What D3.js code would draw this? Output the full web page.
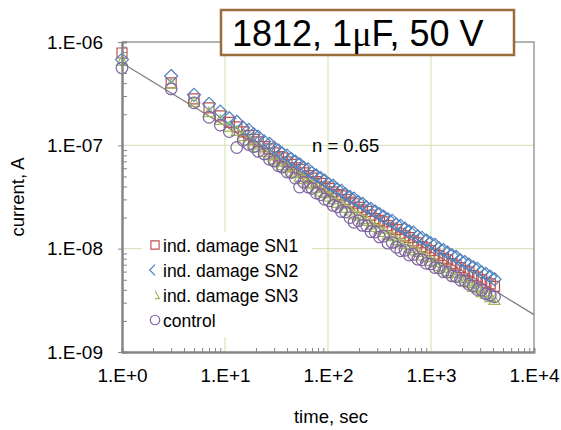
<!DOCTYPE html>
<html>
<head>
<meta charset="utf-8">
<script src="https://cdn.jsdelivr.net/npm/d3@7"></script>
<style>
  body { margin: 0; background: #fff; }
  text { font-family: "Liberation Sans", Arial, sans-serif; fill: #000; }
</style>
</head>
<body>
<svg id="chart" width="561" height="430"></svg>
<script>
// measurement times, sec
const times = [1, 3, 5, 7, 9, 11, 13, 15, 17, 19, 21, 24, 27, 30, 33, 36, 40, 44, 48, 53,
  58, 64, 70, 77, 85, 93, 102, 112, 123, 135, 148, 163, 179, 197, 216, 238, 261, 287, 316, 347,
  382, 420, 462, 508, 559, 615, 676, 744, 818, 900, 990, 1089, 1198, 1318, 1450, 1595, 1754, 1930, 2123, 2335,
  2568, 2825, 3108, 3418, 3760, 4136];

// currents, A
const sn1 = [7.83e-7, 4.02e-7, 2.81e-7, 2.30e-7, 1.93e-7, 1.67e-7, 1.51e-7, 1.35e-7, 1.25e-7, 1.14e-7,
  1.08e-7, 9.70e-8, 9.23e-8, 8.45e-8, 7.80e-8, 7.57e-8, 6.93e-8, 6.55e-8, 6.07e-8, 5.85e-8,
  5.41e-8, 5.09e-8, 4.82e-8, 4.45e-8, 4.29e-8, 3.96e-8, 3.84e-8, 3.54e-8, 3.34e-8, 3.24e-8,
  2.99e-8, 2.82e-8, 2.72e-8, 2.51e-8, 2.37e-8, 2.29e-8, 2.11e-8, 1.95e-8, 1.88e-8, 1.82e-8,
  1.67e-8, 1.58e-8, 1.53e-8, 1.41e-8, 1.33e-8, 1.28e-8, 1.19e-8, 1.14e-8, 1.05e-8, 1.02e-8,
  9.59e-9, 8.85e-9, 8.55e-9, 8.07e-9, 7.80e-9, 7.18e-9, 6.93e-9, 6.55e-9, 6.18e-9, 5.97e-9,
  5.50e-9, 5.31e-9, 5.01e-9, 4.73e-9, 4.57e-9, 4.31e-9];
const sn2 = [6.76e-7, 4.69e-7, 3.08e-7, 2.52e-7, 2.12e-7, 1.83e-7, 1.69e-7, 1.48e-7, 1.41e-7, 1.28e-7,
  1.21e-7, 1.09e-7, 1.035e-7, 9.49e-8, 8.95e-8, 8.30e-8, 7.96e-8, 7.35e-8, 6.97e-8, 6.56e-8,
  6.07e-8, 5.85e-8, 5.41e-8, 5.11e-8, 4.81e-8, 4.55e-8, 4.21e-8, 4.06e-8, 3.75e-8, 3.63e-8,
  3.35e-8, 3.16e-8, 3.05e-8, 2.82e-8, 2.72e-8, 2.51e-8, 2.43e-8, 2.29e-8, 2.16e-8, 2.04e-8,
  1.92e-8, 1.86e-8, 1.71e-8, 1.66e-8, 1.56e-8, 1.47e-8, 1.43e-8, 1.31e-8, 1.27e-8, 1.20e-8,
  1.13e-8, 1.09e-8, 1.005e-8, 9.70e-9, 9.16e-9, 8.63e-9, 8.34e-9, 7.69e-9, 7.43e-9, 7.01e-9,
  6.61e-9, 6.38e-9, 5.89e-9, 5.69e-9, 5.37e-9, 5.06e-9];
const sn3 = [6.61e-7, 3.95e-7, 2.63e-7, 2.10e-7, 1.76e-7, 1.52e-7, 1.38e-7, 1.23e-7, 1.12e-7, 1.02e-7,
  9.59e-8, 8.65e-8, 8.04e-8, 7.36e-8, 6.95e-8, 6.44e-8, 6.18e-8, 5.57e-8, 5.41e-8, 4.98e-8,
  4.71e-8, 4.34e-8, 4.20e-8, 3.87e-8, 3.56e-8, 3.45e-8, 3.19e-8, 3.01e-8, 2.78e-8, 2.69e-8,
  2.48e-8, 2.34e-8, 2.16e-8, 2.09e-8, 1.93e-8, 1.86e-8, 1.72e-8, 1.62e-8, 1.56e-8, 1.45e-8,
  1.36e-8, 1.32e-8, 1.21e-8, 1.15e-8, 1.11e-8, 1.02e-8, 9.64e-9, 9.29e-9, 8.57e-9, 8.28e-9,
  7.62e-9, 7.36e-9, 6.79e-9, 6.56e-9, 6.05e-9, 5.83e-9, 5.38e-9, 5.20e-9, 4.80e-9, 4.63e-9,
  4.27e-9, 4.12e-9, 3.80e-9, 3.67e-9, 3.39e-9, 3.19e-9];
const control = [5.62e-7, 3.52e-7, 2.58e-7, 1.87e-7, 1.57e-7, 1.36e-7, 9.53e-8, 1.12e-7, 1.02e-7, 9.72e-8,
  8.75e-8, 8.26e-8, 7.33e-8, 7.03e-8, 6.34e-8, 6.15e-8, 5.51e-8, 5.45e-8, 4.82e-8, 3.95e-8,
  4.40e-8, 3.95e-8, 3.83e-8, 3.45e-8, 3.33e-8, 3.01e-8, 2.91e-8, 2.62e-8, 2.54e-8, 2.29e-8,
  2.26e-8, 2.00e-8, 1.80e-8, 1.86e-8, 1.68e-8, 1.66e-8, 1.46e-8, 1.45e-8, 1.30e-8, 1.32e-8,
  1.13e-8, 1.15e-8, 1.03e-8, 9.53e-9, 9.64e-9, 8.67e-9, 8.79e-9, 7.91e-9, 7.82e-9, 7.21e-9,
  7.11e-9, 6.56e-9, 6.49e-9, 5.98e-9, 5.92e-9, 5.45e-9, 5.38e-9, 4.97e-9, 4.91e-9, 4.53e-9,
  4.37e-9, 4.03e-9, 3.98e-9, 3.67e-9, 3.55e-9, 3.42e-9];

// power-law fit line (n = 0.65)
const fitTimes = [1, 10000];
const fitCurrent = [6.27e-7, 2.30e-9];

const seriesNames = ["ind. damage SN1", "ind. damage SN2", "ind. damage SN3", "control"];
const xTicks = [1, 10, 100, 1000, 10000];
const xTickLabels = ["1.E+0", "1.E+1", "1.E+2", "1.E+3", "1.E+4"];
const yTicks = [1e-9, 1e-8, 1e-7, 1e-6];
const yTickLabels = ["1.E-09", "1.E-08", "1.E-07", "1.E-06"];

const svg = d3.select("#chart");
const plotLeft = 122, plotRight = 534, plotTop = 42, plotBottom = 352;

const x = d3.scaleLog().domain([1, 1e4]).range([plotLeft, plotRight]);
const y = d3.scaleLog().domain([1e-9, 1e-6]).range([plotBottom, plotTop]);

// minor tick values 2..9 in each decade
function minors(lo, hi) {
  let out = [];
  for (let d = lo; d < hi * 0.999; d *= 10) {
    for (let k = 2; k <= 9; k++) out.push(d * k);
  }
  return out;
}

// gridlines (major only)
const grid = svg.append("g").attr("stroke", "#d7e4bd").attr("stroke-width", 1.2);
grid.selectAll(".vg").data(xTicks.slice(1, -1)).join("line")
  .attr("x1", d => x(d)).attr("x2", d => x(d)).attr("y1", plotTop).attr("y2", plotBottom);
grid.selectAll(".hg").data(yTicks.slice(1, -1)).join("line")
  .attr("y1", d => y(d)).attr("y2", d => y(d)).attr("x1", plotLeft).attr("x2", plotRight);

// plot border top/right
svg.append("path")
  .attr("d", `M${plotLeft},${plotTop}H${plotRight}V${plotBottom}`)
  .attr("fill", "none").attr("stroke", "#9a9a9a").attr("stroke-width", 1.5);

// fit line
svg.append("path")
  .datum(fitTimes.map((t, i) => [t, fitCurrent[i]]))
  .attr("d", d3.line().x(d => x(d[0])).y(d => y(d[1])))
  .attr("fill", "none").attr("stroke", "#808080").attr("stroke-width", 1.3);

// marker shapes
const shapes = {
  square: "M-5,-5H5V5H-5Z",
  diamond: "M0,-6.5L6.5,0L0,6.5L-6.5,0Z",
  triangle: "M0,-5L5.5,4.5H-5.5Z",
  circle: d3.arc()({innerRadius: 0, outerRadius: 5.8, startAngle: 0, endAngle: 2 * Math.PI})
};
const series = [
  {name: seriesNames[0], values: sn1, shape: "square", color: "#c0504d"},
  {name: seriesNames[1], values: sn2, shape: "diamond", color: "#4f81bd"},
  {name: seriesNames[2], values: sn3, shape: "triangle", color: "#9bbb59"},
  {name: seriesNames[3], values: control, shape: "circle", color: "#8064a2"}
];

series.forEach(s => {
  svg.append("g").selectAll("path")
    .data(times.map((t, i) => [t, s.values[i]]))
    .join("path")
    .attr("transform", d => `translate(${x(d[0])},${y(d[1])})`)
    .attr("d", shapes[s.shape])
    .attr("fill", "none")
    .attr("stroke", s.color)
    .attr("stroke-width", 1.2);
});

// axes
const axisColor = "#868686";
const xAxis = svg.append("g").attr("transform", `translate(0,${plotBottom})`)
  .call(d3.axisBottom(x).tickValues(xTicks).tickSize(0).tickPadding(17)
    .tickFormat((d, i) => xTickLabels[i]));
const yAxis = svg.append("g").attr("transform", `translate(${plotLeft},0)`)
  .call(d3.axisLeft(y).tickValues(yTicks).tickSizeInner(4).tickSizeOuter(0).tickPadding(15)
    .tickFormat((d, i) => yTickLabels[i]));
const xMinor = svg.append("g").attr("transform", `translate(0,${plotBottom})`)
  .call(d3.axisBottom(x).tickValues(minors(1, 1e4)).tickSize(-4).tickFormat(""));
const yMinor = svg.append("g").attr("transform", `translate(${plotLeft},0)`)
  .call(d3.axisLeft(y).tickValues(minors(1e-9, 1e-6)).tickSize(-5).tickFormat(""));

[xAxis, yAxis, xMinor, yMinor].forEach(a => {
  a.select(".domain").attr("stroke", axisColor).attr("stroke-width", 2);
  a.selectAll(".tick line").attr("stroke", axisColor).attr("stroke-width", 1);
  a.selectAll("text").attr("font-size", 19).attr("font-family", "Liberation Sans, Arial, sans-serif").attr("fill", "#000");
});

// axis titles
svg.append("text")
  .attr("transform", `translate(24,${(plotTop + plotBottom) / 2}) rotate(-90)`)
  .attr("text-anchor", "middle").attr("font-size", 18.5)
  .text("current, A");
svg.append("text")
  .attr("x", 331).attr("y", 423)
  .attr("text-anchor", "middle").attr("font-size", 18.5)
  .text("time, sec");

// slope annotation
svg.append("text")
  .attr("x", 312).attr("y", 152).attr("font-size", 18.5)
  .text("n = 0.65");

// legend
const lg = svg.append("g");
lg.append("rect").attr("x", 142).attr("y", 232).attr("width", 170).attr("height", 105).attr("fill", "#fff");
const defs = svg.append("defs");
defs.append("clipPath").attr("id", "clipLeftHalf")
  .append("rect").attr("x", -8).attr("y", -8).attr("width", 8).attr("height", 16);
defs.append("clipPath").attr("id", "clipRightHalf")
  .append("rect").attr("x", 0).attr("y", -8).attr("width", 8).attr("height", 16);
const legendY = [245, 270, 295, 320];
series.forEach((s, i) => {
  const g = lg.append("g").attr("transform", `translate(155,${legendY[i]}) scale(0.82)`);
  const p = g.append("path").attr("d", shapes[s.shape])
    .attr("fill", "none").attr("stroke", s.color).attr("stroke-width", 1.4);
  if (s.shape === "diamond") p.attr("clip-path", "url(#clipLeftHalf)");
  if (s.shape === "triangle") p.attr("clip-path", "url(#clipRightHalf)");
  lg.append("text").attr("x", 163).attr("y", legendY[i] + 6.5)
    .attr("font-size", 17.5).text(s.name);
});

// title box
svg.append("rect").attr("x", 221).attr("y", 10).attr("width", 293).attr("height", 45)
  .attr("fill", "#fff").attr("stroke", "#9b6b3c").attr("stroke-width", 2.5);
const title = svg.append("text").attr("x", 232).attr("y", 46).attr("font-size", 36);
title.append("tspan").text("1812, 1");
title.append("tspan").attr("font-family", "Liberation Serif, serif").text("μ");
title.append("tspan").text("F, 50 V");
</script>
</body>
</html>
